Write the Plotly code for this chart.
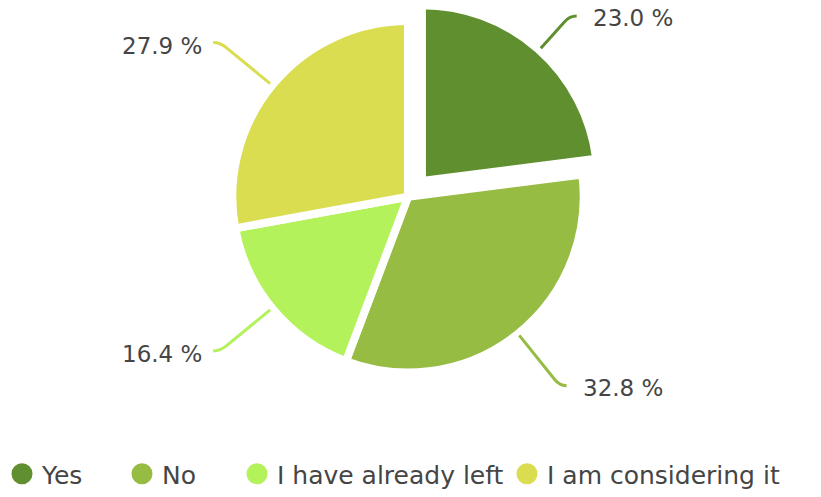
import math
import plotly.graph_objects as go

# ---- data ----
categories = ["Yes", "No", "I have already left", "I am considering it"]
values = [23.0, 32.8, 16.4, 27.9]
colors = ["#608f30", "#97bc44", "#b3f25a", "#d9dd4f"]
pulls = [0.12, 0, 0, 0]

W, H = 821, 497
FONT = "DejaVu Sans"
TXT = "#454545"

# pie placement (pixels)
cx, cy = 408, 200
dom_w, dom_h = 400, 400
maxpull = max(pulls)
r = min(dom_w, dom_h) / 2 / (1 + maxpull)

# legend circle centres (pixels)
legend_x = [22, 142, 257, 527]
legend_y = 482

fig = go.Figure()
fig.add_trace(go.Pie(
    labels=categories, values=values, sort=False, direction="clockwise",
    rotation=0, pull=pulls, textinfo="none", showlegend=False,
    marker=dict(colors=colors, line=dict(color="white", width=8)),
    domain=dict(x=[(cx - dom_w / 2) / W, (cx + dom_w / 2) / W],
                y=[1 - (cy + dom_h / 2) / H, 1 - (cy - dom_h / 2) / H]),
))

legends = {}
for i, (name, col, lx) in enumerate(zip(categories, colors, legend_x)):
    key = "legend" if i == 0 else f"legend{i + 1}"
    fig.add_trace(go.Scatter(x=[None], y=[None], mode="markers", name=name,
                             legend=key,
                             marker=dict(color=col, size=16, symbol="circle",
                                         line=dict(color=col, width=5))))
    legends[key] = dict(orientation="h", x=(lx - 20) / W, xanchor="left",
                        y=(H - legend_y) / H, yanchor="middle",
                        font=dict(family=FONT, size=25, color=TXT),
                        itemsizing="trace", bgcolor="rgba(0,0,0,0)")


def px2paper(x, y):
    return x / W, 1 - y / H


total = sum(values)
cum = 0
shapes, annotations = [], []
for v, col, p in zip(values, colors, pulls):
    mid = (cum + v / 2) / total * 360
    cum += v
    t = math.radians(mid)
    dx, dy = math.sin(t), -math.cos(t)
    ox, oy = p * r * dx, p * r * dy
    x0, y0 = cx + ox + dx * (r + 1), cy + oy + dy * (r + 1)
    x1, y1 = cx + dx * r * 1.37, cy + dy * r * 1.37
    sx = 1 if dx >= 0 else -1
    xa, ya = x1 - dx * 8, y1 - dy * 8
    x2, y2 = x1 + sx * 7, y1
    pts = [px2paper(*q) for q in [(x0, y0), (xa, ya), (x1, y1), (x2, y2)]]
    path = (f"M {pts[0][0]},{pts[0][1]} L {pts[1][0]},{pts[1][1]} "
            f"Q {pts[2][0]},{pts[2][1]} {pts[3][0]},{pts[3][1]}")
    shapes.append(dict(type="path", path=path, xref="paper", yref="paper",
                       line=dict(color=col, width=3)))
    gap = 14 if sx > 0 else 9
    dyl = 2 if sx > 0 else 3
    lx, ly = px2paper(x2 + sx * gap, y2 + dyl)
    annotations.append(dict(x=lx, y=ly, xref="paper", yref="paper",
                            text=f"{v:.1f} %", showarrow=False,
                            xanchor="left" if sx > 0 else "right", yanchor="middle",
                            font=dict(family=FONT, size=23, color=TXT)))

fig.update_layout(
    width=W, height=H, autosize=False,
    margin=dict(l=0, r=0, t=0, b=0),
    paper_bgcolor="white", plot_bgcolor="white",
    xaxis=dict(visible=False), yaxis=dict(visible=False),
    shapes=shapes, annotations=annotations,
    **legends,
)

fig.write_html("out.html", config={"displayModeBar": False},
               post_script="document.body.style.margin='0';")
